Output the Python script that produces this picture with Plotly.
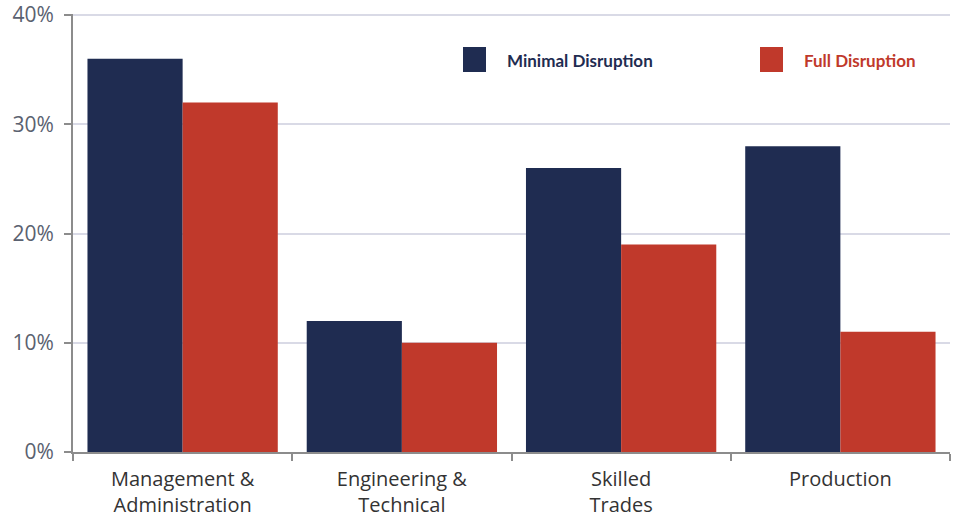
import plotly.graph_objects as go

categories = ["Management &<br>Administration", "Engineering &<br>Technical", "Skilled<br>Trades", "Production"]
minimal_disruption = [36, 12, 26, 28]
full_disruption = [32, 10, 19, 11]
y_ticks = [0, 10, 20, 30, 40]
y_tick_labels = ["0%", "10%", "20%", "30%", "40%"]

NAVY = "#1F2C51"
RED = "#C0392B"
AXIS = "#8C8C8C"
GRID = "#D9DAE6"

fig = go.Figure()
fig.add_trace(go.Bar(x=categories, y=minimal_disruption, name="Minimal Disruption",
                     marker=dict(color=NAVY, line=dict(width=0))))
fig.add_trace(go.Bar(x=categories, y=full_disruption, name="Full Disruption",
                     marker=dict(color=RED, line=dict(width=0))))

W, H = 953, 517
ml, mr, mt, mb = 73, 3, 14, 65
pw, ph = W - ml - mr, H - mt - mb

def px_x(p):
    return (p - ml) / pw

def px_y(p):
    return (H - mb - p) / ph

# Custom legend: large swatches with coloured bold labels
legend_items = [("Minimal Disruption", NAVY, 463), ("Full Disruption", RED, 760)]
for label, color, left in legend_items:
    fig.add_shape(type="rect", xref="paper", yref="paper",
                  x0=px_x(left), x1=px_x(left + 23), y0=px_y(72), y1=px_y(47),
                  fillcolor=color, line=dict(width=0))
    fig.add_annotation(xref="paper", yref="paper", x=px_x(left + 42), y=px_y(60),
                       text="<b>" + label + "</b>", showarrow=False,
                       xanchor="left", yanchor="middle",
                       font=dict(family="Lato", size=17, color=color))

fig.update_layout(
    width=W, height=H,
    margin=dict(l=ml, r=mr, t=mt, b=mb),
    paper_bgcolor="white", plot_bgcolor="white",
    barmode="group", bargap=0.132, bargroupgap=0,
    showlegend=False,
    font=dict(family="Open Sans"),
)
fig.update_xaxes(
    type="category", tickson="boundaries", ticks="outside", ticklen=7,
    tickwidth=2, tickcolor=AXIS, showline=True, linecolor=AXIS, linewidth=2,
    showgrid=False, automargin=False,
    tickfont=dict(family="Open Sans", size=20, color="#333333"),
    ticklabelstandoff=8,
)
fig.update_yaxes(
    range=[0, 40.1], tickvals=y_ticks, ticktext=y_tick_labels,
    ticks="outside", ticklen=7, tickwidth=2, tickcolor=AXIS,
    showline=True, linecolor=AXIS, linewidth=2,
    showgrid=True, gridcolor=GRID, gridwidth=1.5, zeroline=False,
    automargin=False, ticklabeloverflow="allow",
    tickfont=dict(family="Open Sans", size=21, color="#5A6170"),
    ticklabelstandoff=6,
)

fig.write_html("out.html")
